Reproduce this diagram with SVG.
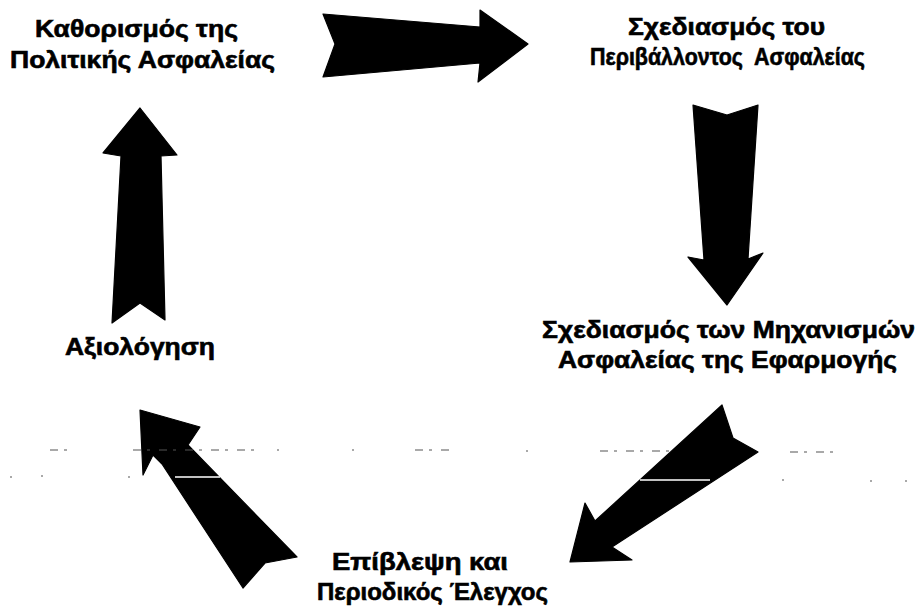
<svg xmlns="http://www.w3.org/2000/svg" width="919" height="610" viewBox="0 0 919 610">
  <style>
    .lbl { font-family: "Liberation Sans", Arial, "DejaVu Sans", sans-serif; font-weight: bold; font-size: 23px; fill: #000; stroke: #000; stroke-width: 0.6; }
    .arrow { fill: #000; stroke: #000; stroke-width: 1.2; stroke-linejoin: round; }
    .scan { stroke: #555; stroke-width: 1.2; fill: none; }
    .gap { stroke: #fff; stroke-width: 1.5; fill: none; }
  </style>

  <rect x="0" y="0" width="919" height="610" fill="#fff"/>

  <!-- stages of the cycle -->
  <g id="node-policy">
    <text class="lbl" x="35" y="37" textLength="203" lengthAdjust="spacingAndGlyphs">Καθορισμός της</text>
    <text class="lbl" x="10" y="68" textLength="265" lengthAdjust="spacingAndGlyphs">Πολιτικής Ασφαλείας</text>
  </g>
  <g id="node-environment">
    <text class="lbl" x="628" y="35" textLength="197" lengthAdjust="spacingAndGlyphs">Σχεδιασμός του</text>
    <text class="lbl" x="590" y="65" textLength="275" lengthAdjust="spacingAndGlyphs" xml:space="preserve">Περιβάλλοντος  Ασφαλείας</text>
  </g>
  <g id="node-mechanisms">
    <text class="lbl" x="542" y="338" textLength="373" lengthAdjust="spacingAndGlyphs">Σχεδιασμός των Μηχανισμών</text>
    <text class="lbl" x="558" y="368" textLength="339" lengthAdjust="spacingAndGlyphs">Ασφαλείας της Εφαρμογής</text>
  </g>
  <g id="node-monitoring">
    <text class="lbl" x="332" y="570" textLength="176" lengthAdjust="spacingAndGlyphs">Επίβλεψη και</text>
    <text class="lbl" x="317" y="600" textLength="231" lengthAdjust="spacingAndGlyphs">Περιοδικός Έλεγχος</text>
  </g>
  <g id="node-evaluation">
    <text class="lbl" x="65" y="355" textLength="150" lengthAdjust="spacingAndGlyphs">Αξιολόγηση</text>
  </g>

  <!-- block arrows linking the stages -->
  <g id="connectors">
    <polygon class="arrow" points="323,14 480,27 480,10 528,44 478,82 480,63 323,77 335,44"/>
    <polygon class="arrow" points="693,105 727,115 758,105 748,259 763,253 727,305 688,257 704,260"/>
    <polygon class="arrow" points="722,405 733,438 758,452 612,547 632,560 570,562 585,503 595,521"/>
    <polygon class="arrow" points="297,557 265,563 243,588 162,464 153,455 143,475 140,410 200,427 188,445"/>
    <polygon class="arrow" points="140,108 177,155 161,156 165,320 140,303 112,323 121,156 103,153"/>
  </g>

  <!-- faint broken scan lines -->
  <g id="scan-lines">
    <path class="gap" d="M175,477 H220 M640,480 H710"/>
    <path class="scan" stroke-dasharray="8 6 3 9" d="M50,450 H68 M133,450 H262 M415,450 H455 M600,451 H670 M790,452 H835"/>
    <path class="scan" d="M277,450 h2 M352,450 h2 M526,451 h2 M10,477 h2 M41,476 h2 M128,477 h2 M782,480 h2 M870,481 h2 M905,481 h2"/>
  </g>
</svg>
